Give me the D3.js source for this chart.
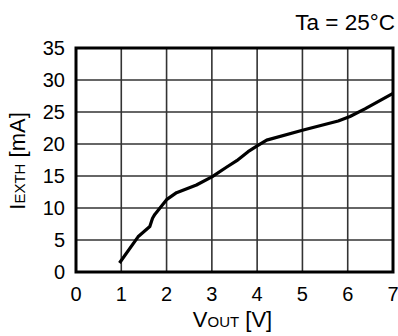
<!DOCTYPE html>
<html><head><meta charset="utf-8">
<script src="https://cdn.jsdelivr.net/npm/d3@7"></script>
<style>body{margin:0;background:#fff}svg{display:block;font-family:"Liberation Sans",Arial,sans-serif}</style>
</head><body>
<svg id="c" width="398" height="336"></svg>
<script>
const xTicks = [0,1,2,3,4,5,6,7];
const yTicks = [0,5,10,15,20,25,30,35];
const vout = [0.96,1.37,1.63,1.69,1.74,1.85,2.0,2.22,2.66,3.01,3.33,3.55,3.8,4.0,4.21,5.02,5.79,6.05,6.38,7.0];
const iexth = [1.4,5.5,7.1,8.4,9.0,9.95,11.3,12.4,13.6,14.9,16.4,17.4,18.8,19.7,20.6,22.2,23.6,24.3,25.5,27.9];

const svg = d3.select("#c");
const L=76,R=393,T=48,B=272;
const x = d3.scaleLinear().domain([0,7]).range([L,R]);
const y = d3.scaleLinear().domain([0,35]).range([B,T]);

// grid
svg.append("g").selectAll("line").data(xTicks.slice(1,-1)).join("line")
  .attr("x1",d=>x(d)).attr("x2",d=>x(d)).attr("y1",T).attr("y2",B)
  .attr("stroke","#333").attr("stroke-width",1.6);
svg.append("g").selectAll("line").data(yTicks.slice(1,-1)).join("line")
  .attr("y1",d=>y(d)).attr("y2",d=>y(d)).attr("x1",L).attr("x2",R)
  .attr("stroke","#333").attr("stroke-width",1.6);

// curve
svg.append("path").datum(vout.map((v,i)=>[v,iexth[i]]))
  .attr("d",d3.line().x(d=>x(d[0])).y(d=>y(d[1])))
  .attr("fill","none").attr("stroke","#000").attr("stroke-width",3.2).attr("stroke-linejoin","round");

// frame
svg.append("rect").attr("x",L).attr("y",T).attr("width",R-L).attr("height",B-T)
  .attr("fill","none").attr("stroke","#000").attr("stroke-width",3);

// tick labels
svg.append("g").selectAll("text").data(yTicks).join("text")
  .attr("x",65).attr("y",d=>y(d)+7).attr("text-anchor","end")
  .attr("font-size",20).text(d=>d);
svg.append("g").selectAll("text").data(xTicks).join("text")
  .attr("x",d=>x(d)).attr("y",B+28.5).attr("text-anchor","middle")
  .attr("font-size",20).text(d=>d);

// axis titles
const xt = svg.append("text").attr("x",(L+R)/2-2).attr("y",327).attr("text-anchor","middle").attr("font-size",22);
xt.append("tspan").text("V");
xt.append("tspan").attr("font-size",15).text("OUT");
xt.append("tspan").text(" [V]");

const yt = svg.append("text").attr("transform",`translate(25,${(T+B)/2+1}) rotate(-90)`).attr("text-anchor","middle").attr("font-size",22);
yt.append("tspan").text("I");
yt.append("tspan").attr("font-size",15).text("EXTH");
yt.append("tspan").text(" [mA]");

svg.append("text").attr("x",395).attr("y",29.5).attr("text-anchor","end").attr("font-size",22.5).text("Ta = 25°C");
</script>
</body></html>
